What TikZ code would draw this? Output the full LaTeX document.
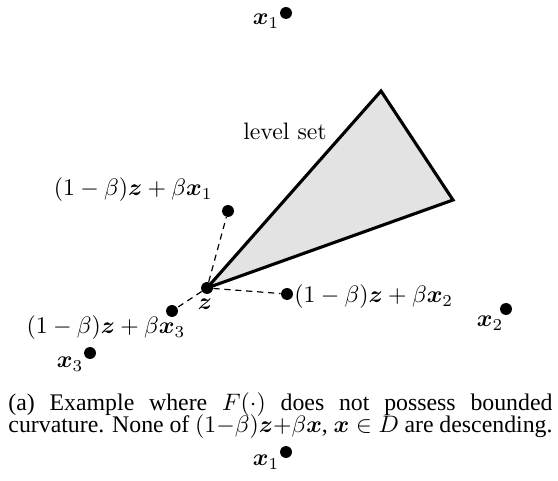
\documentclass[tikz,border=0pt]{standalone}
\usepackage{bm}
\usepackage{fontspec}
\newfontfamily\capfont{Liberation Serif}
\begin{document}
\begin{tikzpicture}[x=0.42pt,y=-0.42pt,
  dot/.style={circle,fill=black,inner sep=0pt,minimum size=5pt},
  lbl/.style={inner sep=0pt,font=\fontsize{10}{12}\selectfont},
  dsh/.style={dash pattern=on 2.6pt off 2pt,line width=0.5pt},
  captxt/.style={inner sep=0pt,anchor=base west,font=\capfont\fontsize{10}{12}\selectfont}]
\useasboundingbox (0,0) rectangle (558,481);
% level set
\coordinate (z0) at (207,288);
\coordinate (A) at (381,91);
\coordinate (B) at (453,200);
\filldraw[fill=black!11,line width=1.3pt,line join=miter] (z0) -- (A) -- (B) -- cycle;
\node[lbl] (ls) at (285,131) {level set};
% dots
\node[dot] (z) at (z0) {};
\node[dot] (x1) at (286,13) {};
\node[dot] (x2) at (506,309) {};
\node[dot] (x3) at (90,353) {};
\node[dot] (d1) at (228,211) {};
\node[dot] (d2) at (287,294) {};
\node[dot] (d3) at (172,311) {};
\node[dot] (x1b) at (286,452) {};
% dashed
\draw[dsh] (z) -- (d1);
\draw[dsh] (z) -- (d2);
\draw[dsh] (z) -- (d3);
% labels
\node[lbl] (lx1) at (266,21) {$\bm x_1$};
\node[lbl] (lx2) at (490,323) {$\bm x_2$};
\node[lbl] (lx3) at (70,364) {$\bm x_3$};
\node[lbl] (lz) at (205,304) {$\bm z$};
\node[lbl,anchor=east] (ld1) at (213,190) {$(1-\beta)\bm z+\beta\bm x_1$};
\node[lbl,anchor=west] (ld2) at (294,297) {$(1-\beta)\bm z+\beta\bm x_2$};
\node[lbl] (ld3) at (106,328) {$(1-\beta)\bm z+\beta\bm x_3$};
\node[lbl] (lx1b) at (266,462) {$\bm x_1$};
% caption
\node[captxt] (c1) at (8,410) {\makebox[228.5pt][s]{(a) Example where $F(\cdot)$ does not possess bounded}};
\node[captxt] (c2) at (8,432) {\makebox[228.5pt][s]{curvature. None of ${(1{-}\beta)\bm z{+}\beta\bm x}$, $\bm x\in D$ are descending.}};
\end{tikzpicture}
\end{document}
